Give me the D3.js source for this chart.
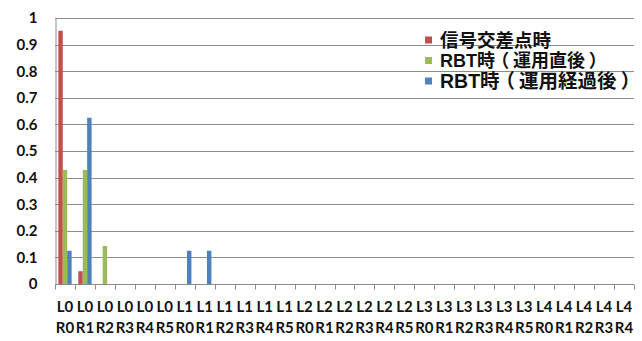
<!DOCTYPE html>
<html>
<head>
<meta charset="utf-8">
<script src="https://cdn.jsdelivr.net/npm/d3@7"></script>
<style>
  html, body { margin: 0; padding: 0; background: #fff; }
  svg { display: block; }
  .bracket { font-feature-settings: "palt" 1; }
</style>
</head>
<body>
<svg id="chart" width="642" height="341"></svg>
<script>
// Categories: L (left) index 0-4, R (right) index 0-5
const categories = [
  "L0R0","L0R1","L0R2","L0R3","L0R4","L0R5",
  "L1R0","L1R1","L1R2","L1R3","L1R4","L1R5",
  "L2R0","L2R1","L2R2","L2R3","L2R4","L2R5",
  "L3R0","L3R1","L3R2","L3R3","L3R4","L3R5",
  "L4R0","L4R1","L4R2","L4R3","L4R4"
];
const seriesNames = ["信号交差点時", "RBT時（運用直後）", "RBT時（運用経過後）"];
const signalValues = [0.952, 0.048, 0, 0, 0, 0, 0, 0, 0, 0, 0, 0, 0, 0, 0, 0, 0, 0, 0, 0, 0, 0, 0, 0, 0, 0, 0, 0, 0];
const rbtEarlyValues = [0.429, 0.429, 0.143, 0, 0, 0, 0, 0, 0, 0, 0, 0, 0, 0, 0, 0, 0, 0, 0, 0, 0, 0, 0, 0, 0, 0, 0, 0, 0];
const rbtLaterValues = [0.125, 0.625, 0, 0, 0, 0, 0.125, 0.125, 0, 0, 0, 0, 0, 0, 0, 0, 0, 0, 0, 0, 0, 0, 0, 0, 0, 0, 0, 0, 0];
const yTicks = [0, 0.1, 0.2, 0.3, 0.4, 0.5, 0.6, 0.7, 0.8, 0.9, 1];
const colors = ["#C0504D", "#9BBB59", "#4F81BD"];

const seriesValues = [signalValues, rbtEarlyValues, rbtLaterValues];

const svg = d3.select("#chart");
const plot = { left: 55, right: 634, top: 18, bottom: 284 };

const x = d3.scaleBand().domain(categories).range([plot.left, plot.right]).paddingInner(0).paddingOuter(0);
const y = d3.scaleLinear().domain([0, 1]).range([plot.bottom, plot.top]);
// Grouped bars take 2/3 of each band (gap width 50%)
const groupW = x.bandwidth() / 1.5;
const xs = d3.scaleBand().domain(d3.range(seriesNames.length)).range([0, groupW]);

// Horizontal gridlines
svg.append("g")
  .selectAll("line")
  .data(yTicks.filter(d => d > 0))
  .join("line")
  .attr("x1", plot.left).attr("x2", plot.right)
  .attr("y1", d => Math.round(y(d)) + 0.5).attr("y2", d => Math.round(y(d)) + 0.5)
  .attr("stroke", "#8c8c8c").attr("stroke-width", 1);

// Y axis
const yAxis = svg.append("g")
  .attr("transform", `translate(${plot.left + 0.5},0)`)
  .call(d3.axisLeft(y).tickValues(yTicks).tickFormat(d => d3.format("~g")(d)).tickSize(0).tickPadding(18));
yAxis.select(".domain").attr("stroke", "#8c8c8c");
yAxis.selectAll("text")
  .attr("font-family", "Lato, 'Liberation Sans', sans-serif")
  .attr("font-weight", "bold").attr("font-size", 15).attr("fill", "#111");

// Bars
const groups = svg.append("g")
  .selectAll("g")
  .data(seriesValues)
  .join("g")
  .attr("fill", (d, i) => colors[i]);
groups.each(function(vals, si) {
  d3.select(this).selectAll("rect")
    .data(vals.map((v, ci) => ({ v, c: categories[ci] })))
    .join("rect")
    .attr("x", d => x(d.c) + (x.bandwidth() - groupW) / 2 + xs(si))
    .attr("width", xs.bandwidth())
    .attr("y", d => y(d.v))
    .attr("height", d => y(0) - y(d.v));
});

// X axis with ticks between categories
const xAxisG = svg.append("g").attr("transform", `translate(0,${Math.round(y(0)) + 0.5})`);
xAxisG.append("line")
  .attr("x1", plot.left).attr("x2", plot.right)
  .attr("stroke", "#8c8c8c");
xAxisG.selectAll("line.tick")
  .data(categories.map(c => x(c)).concat([plot.right]))
  .join("line").attr("class", "tick")
  .attr("x1", d => Math.round(d) + 0.5).attr("x2", d => Math.round(d) + 0.5)
  .attr("y1", 0).attr("y2", 5)
  .attr("stroke", "#8c8c8c");

// Two-line category labels: "L0" over "R0"
const labels = svg.append("g")
  .attr("font-family", "Lato, 'Liberation Sans', sans-serif")
  .attr("font-weight", "bold").attr("font-size", 15).attr("fill", "#111")
  .attr("text-anchor", "middle");
labels.selectAll("text")
  .data(categories)
  .join("text")
  .each(function(d) {
    const t = d3.select(this);
    const cx = x(d) + x.bandwidth() / 2;
    t.append("tspan").attr("x", cx).attr("y", 312).text(d.slice(0, 2));
    t.append("tspan").attr("x", cx).attr("y", 333).text(d.slice(2));
  });

// Legend
const legendFontSizes = [18.5, 18, 19.5];
const legend = svg.append("g").attr("transform", "translate(425,40)");
const items = legend.selectAll("g").data(seriesNames).join("g")
  .attr("transform", (d, i) => `translate(0,${i * 20.5})`);
items.append("rect")
  .attr("x", 0).attr("y", -3.5).attr("width", 7).attr("height", 7)
  .attr("fill", (d, i) => colors[i]);
items.append("text")
  .attr("x", 15).attr("y", 0).attr("dy", "0.36em")
  .attr("font-family", "'Liberation Sans', 'Noto Sans CJK JP', sans-serif")
  .attr("font-weight", "bold")
  .attr("font-size", (d, i) => legendFontSizes[i])
  .attr("fill", "#111")
  .each(function(name) {
    // Brackets use proportional widths, padded on both sides so they sit centred
    const t = d3.select(this);
    const parts = name.split(/([（）])/).filter(s => s.length);
    let afterBracket = false;
    parts.forEach(p => {
      const ts = t.append("tspan").text(p);
      if (p === "（" || p === "）") {
        ts.attr("class", "bracket").attr("dx", "0.25em");
        afterBracket = true;
      } else if (afterBracket) {
        ts.attr("dx", "0.25em");
        afterBracket = false;
      }
    });
  });
</script>
</body>
</html>
